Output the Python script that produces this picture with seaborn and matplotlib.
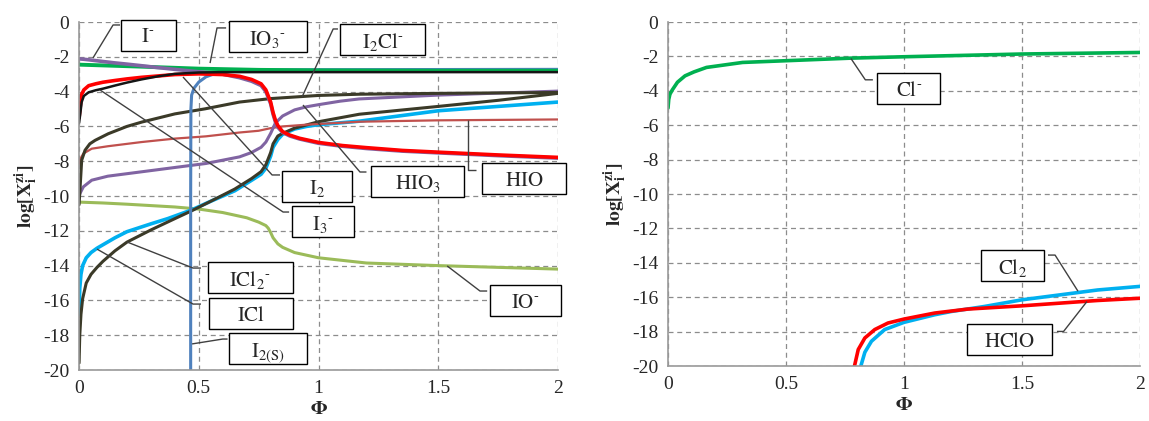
import numpy as np
import pandas as pd
import seaborn as sns
import matplotlib.pyplot as plt
from matplotlib.patches import Rectangle

# ---- left panel: iodine species, log[X] vs Phi ----
phi_Im = [0, 0.004, 0.011, 0.02, 0.04, 0.07, 0.1, 0.15, 0.2, 0.26, 0.33, 0.4, 0.5, 0.6, 0.67, 0.72,
          0.76, 0.78, 0.8, 0.81, 0.82, 0.83, 0.85, 0.88, 0.92, 1.0, 1.1, 1.2, 1.35, 1.5, 1.75, 2.0]
log_Im = [-2.12, -2.12, -2.13, -2.14, -2.17, -2.22, -2.27, -2.35, -2.42, -2.51, -2.62, -2.72, -2.86, -3.0,
          -3.2, -3.4, -3.65, -4.0, -4.7, -5.3, -5.75, -6.05, -6.35, -6.55, -6.72, -6.97, -7.14, -7.27,
          -7.42, -7.52, -7.68, -7.82]

phi_I2 = phi_Im
log_I2 = [-5.5, -5.0, -4.15, -3.9, -3.66, -3.55, -3.46, -3.36, -3.27, -3.18, -3.1, -3.02, -2.98, -3.02,
          -3.12, -3.3, -3.55, -3.9, -4.6, -5.2, -5.65, -5.95, -6.3, -6.5, -6.68, -6.92, -7.1, -7.22,
          -7.38, -7.48, -7.64, -7.78]

phi_I3m = [0, 0.004, 0.011, 0.02, 0.04, 0.07, 0.1, 0.15, 0.2, 0.26, 0.33, 0.4, 0.5, 0.6, 1.0, 1.5, 2.0]
log_I3m = [-5.8, -5.4, -4.6, -4.25, -4.04, -3.92, -3.83, -3.65, -3.48, -3.3, -3.12, -2.98, -2.9, -2.88,
           -2.88, -2.88, -2.88]

phi_IO3m = [0, 0.25, 0.5, 0.75, 1.0, 1.5, 2.0]
log_IO3m = [-2.45, -2.56, -2.68, -2.75, -2.78, -2.8, -2.8]

phi_I2s = [0.466, 0.466, 0.467, 0.47, 0.48, 0.5, 0.53, 0.56, 0.6, 0.65, 0.8, 1.0, 1.5, 2.0]
log_I2s = [-20, -10, -5.0, -4.2, -3.8, -3.45, -3.15, -3.0, -2.85, -2.78, -2.75, -2.74, -2.73, -2.72]

phi_HIO = [0, 0.004, 0.018, 0.053, 0.12, 0.26, 0.4, 0.53, 0.67, 0.75, 0.8, 0.85, 0.95, 1.17, 1.5, 2.0]
log_HIO = [-8.15, -7.9, -7.56, -7.28, -7.14, -6.9, -6.7, -6.57, -6.35, -6.25, -6.1, -6.0, -5.9, -5.73,
           -5.65, -5.6]

phi_HIO3 = [0, 0.004, 0.018, 0.053, 0.12, 0.26, 0.4, 0.53, 0.67, 0.72, 0.76, 0.78, 0.8, 0.82, 0.85,
            0.9, 0.95, 1.0, 1.09, 1.17, 1.5, 2.0]
log_HIO3 = [-10.0, -9.85, -9.47, -9.09, -8.86, -8.61, -8.36, -8.13, -7.75, -7.5, -7.2, -6.9, -6.4, -5.8,
            -5.4, -5.05, -4.87, -4.75, -4.55, -4.42, -4.2, -3.97]

phi_I2Clm = [0, 0.004, 0.011, 0.025, 0.045, 0.067, 0.122, 0.2, 0.262, 0.4, 0.526, 0.67, 0.8, 1.0, 1.17,
             1.5, 2.0]
log_I2Clm = [-10.5, -9.6, -7.94, -7.37, -7.0, -6.8, -6.42, -6.0, -5.75, -5.28, -4.99, -4.6, -4.4, -4.22,
             -4.15, -4.1, -4.05]

phi_ICl2m = [0, 0.003, 0.008, 0.015, 0.03, 0.05, 0.075, 0.1, 0.15, 0.2, 0.3, 0.4, 0.47, 0.55, 0.65, 0.72,
             0.76, 0.78, 0.8, 0.81, 0.83, 0.85, 0.9, 1.0, 1.17, 1.5, 1.75, 2.0]
log_ICl2m = [-19.6, -18.0, -16.8, -15.9, -15.0, -14.5, -14.1, -13.75, -13.15, -12.65, -11.95, -11.3, -10.85,
             -10.3, -9.6, -9.0, -8.6, -8.2, -7.5, -7.0, -6.55, -6.4, -6.1, -5.73, -5.3, -4.85, -4.5, -4.1]

phi_ICl = [0, 0.003, 0.008, 0.015, 0.03, 0.05, 0.075, 0.1, 0.15, 0.2, 0.3, 0.37, 0.47, 0.55, 0.65, 0.72,
           0.76, 0.78, 0.8, 0.81, 0.83, 0.85, 0.9, 0.95, 1.0, 1.17, 1.5, 2.0]
log_ICl = [-16.8, -15.3, -14.5, -14.0, -13.55, -13.25, -13.0, -12.8, -12.4, -12.05, -11.6, -11.3, -10.8,
           -10.3, -9.7, -9.1, -8.75, -8.4, -7.7, -7.2, -6.75, -6.45, -6.15, -6.0, -5.9, -5.7, -5.1, -4.6]

phi_IOm = [0, 0.1, 0.2, 0.3, 0.4, 0.5, 0.6, 0.7, 0.75, 0.78, 0.79, 0.8, 0.81, 0.83, 0.85, 0.9, 1.0, 1.2,
           1.5, 1.75, 2.0]
log_IOm = [-10.35, -10.4, -10.47, -10.55, -10.63, -10.75, -10.95, -11.25, -11.5, -11.7, -11.85, -12.1,
           -12.4, -12.75, -12.95, -13.25, -13.55, -13.85, -14.0, -14.1, -14.2]

# ---- right panel: chlorine species ----
phi_Clm = [0, 0.003, 0.008, 0.018, 0.04, 0.072, 0.11, 0.163, 0.316, 0.5, 0.775, 1.0, 1.5, 2.0]
log_Clm = [-5.0, -4.5, -4.2, -3.95, -3.5, -3.13, -2.9, -2.64, -2.35, -2.25, -2.1, -2.02, -1.86, -1.77]

phi_Cl2 = [0.817, 0.834, 0.862, 0.918, 1.0, 1.13, 1.2, 1.34, 1.5, 1.82, 2.0]
log_Cl2 = [-20, -19.2, -18.56, -17.88, -17.46, -17.02, -16.83, -16.54, -16.15, -15.58, -15.37]

phi_HClO = [0.79, 0.806, 0.834, 0.876, 0.932, 1.0, 1.13, 1.27, 1.5, 1.82, 2.0]
log_HClO = [-20, -19.04, -18.37, -17.88, -17.5, -17.27, -16.92, -16.69, -16.5, -16.19, -16.06]

sns.set_theme(style='white')
plt.rcParams['font.family'] = ['Liberation Serif', 'DejaVu Serif']
plt.rcParams['mathtext.fontset'] = 'stix'
plt.rcParams['axes.unicode_minus'] = False

fig = plt.figure(figsize=(11.49, 4.21), dpi=100)
ax1 = fig.add_axes([0.0688, 0.1211, 0.4169, 0.8266])
ax2 = fig.add_axes([0.5814, 0.1306, 0.4108, 0.8171])


def draw(ax, x, y, color, lw):
    sns.lineplot(x=x, y=y, ax=ax, color=color, linewidth=lw, estimator=None, sort=False)


def label(ax, text, cx, cy, wpx, leader):
    pos = ax.get_position()
    ax_w = pos.width * fig.get_figwidth() * fig.dpi
    ax_h = pos.height * fig.get_figheight() * fig.dpi
    x0, x1 = ax.get_xlim()
    y0, y1 = ax.get_ylim()
    w = wpx * (x1 - x0) / ax_w
    h = 31 * (y1 - y0) / ax_h
    ax.add_patch(Rectangle((cx - w / 2, cy - h / 2), w, h, facecolor='white', edgecolor='black',
                           lw=1, zorder=5, clip_on=False))
    ax.text(cx, cy, text, ha='center', va='center_baseline', fontsize=15, zorder=6)
    lx, ly = zip(*leader)
    ax.plot(lx, ly, color='#404040', lw=1, zorder=4, solid_capstyle='butt')


for ax in (ax1, ax2):
    ax.set_xlim(0, 2)
    ax.set_ylim(-20, 0)
    ax.set_xticks([0, 0.5, 1, 1.5, 2])
    ax.set_xticklabels(['0', '0.5', '1', '1.5', '2'])
    ax.set_yticks(range(-20, 1, 2))
    ax.grid(True, color='#8c8c8c', linestyle=(0, (4, 3)), linewidth=0.9)
    ax.set_axisbelow(True)
    for s in ('top', 'right'):
        ax.spines[s].set_visible(False)
    for s in ('left', 'bottom'):
        ax.spines[s].set_color('#999999')
        ax.spines[s].set_linewidth(1.2)
    ax.tick_params(length=0, labelsize=14, pad=7)
    ax.set_xlabel(r'$\mathbf{\Phi}$', fontsize=14, labelpad=3)
    ax.set_ylabel(r'$\mathbf{log[X_i^{zi}]}$', fontsize=14, labelpad=2)

# left panel curves
draw(ax1, phi_IOm, log_IOm, '#9bbb59', 2.2)
draw(ax1, phi_ICl, log_ICl, '#00b0f0', 2.6)
draw(ax1, phi_ICl2m, log_ICl2m, '#3b3a28', 2.2)
draw(ax1, phi_HIO, log_HIO, '#c0504d', 1.6)
draw(ax1, phi_HIO3, log_HIO3, '#8064a2', 2.2)
draw(ax1, phi_I2Clm, log_I2Clm, '#3b3a28', 2.2)
draw(ax1, phi_I2s, log_I2s, '#4f81bd', 2.2)
draw(ax1, phi_IO3m, log_IO3m, '#00b050', 2.8)
draw(ax1, phi_Im, log_Im, '#8064a2', 2.6)
draw(ax1, phi_I2, log_I2, '#ff0000', 2.6)
draw(ax1, phi_I3m, log_I3m, '#151515', 1.8)

# right panel curves
draw(ax2, phi_Clm, log_Clm, '#00b050', 2.6)
draw(ax2, phi_Cl2, log_Cl2, '#00b0f0', 2.6)
draw(ax2, phi_HClO, log_HClO, '#ff0000', 2.6)

# boxed labels with leader lines
m = r'^{\text{-}}'
label(ax1, r'$\mathrm{I}' + m + '$', 0.288, -0.75, 55, [(0.058, -2.07), (0.142, -0.17), (0.171, -0.17)])
label(ax1, r'$\mathrm{IO_3}' + m + '$', 0.789, -0.86, 78, [(0.547, -2.36), (0.576, -0.34), (0.614, -0.34)])
label(ax1, r'$\mathrm{I_2Cl}' + m + '$', 1.269, -1.03, 85, [(0.931, -4.31), (1.061, -0.40), (1.081, -0.40)])
label(ax1, r'$\mathrm{I_2}$', 0.994, -9.43, 70, [(0.434, -3.16), (0.806, -8.79), (0.839, -8.79)])
label(ax1, r'$\mathrm{I_3}' + m + '$', 1.019, -11.49, 62, [(0.088, -3.91), (0.852, -10.92), (0.877, -10.92)])
label(ax1, r'$\mathrm{HIO_3}$', 1.415, -9.14, 93, [(0.935, -4.77), (1.173, -8.62), (1.2, -8.62)])
label(ax1, r'$\mathrm{HIO}$', 1.858, -9.02, 84, [(1.624, -5.62), (1.624, -8.51), (1.658, -8.51)])
label(ax1, r'$\mathrm{IO}' + m + '$', 1.862, -16.03, 71, [(1.537, -14.02), (1.674, -15.46), (1.704, -15.46)])
label(ax1, r'$\mathrm{ICl_2}' + m + '$', 0.714, -14.71, 85, [(0.2, -12.64), (0.476, -14.14), (0.509, -14.14)])
label(ax1, r'$\mathrm{ICl}$', 0.718, -16.78, 84, [(0.075, -13.05), (0.476, -16.21), (0.509, -16.21)])
label(ax1, r'$\mathrm{I_{2(S)}}$', 0.789, -18.79, 78, [(0.472, -18.5), (0.6, -18.22), (0.62, -18.22)])

label(ax2, r'$\mathrm{Cl}' + m + '$', 1.02, -3.87, 63, [(0.775, -2.12), (0.836, -3.36), (0.868, -3.36)])
label(ax2, r'$\mathrm{Cl_2}$', 1.46, -14.15, 63, [(1.737, -15.65), (1.64, -13.55), (1.61, -13.55)])
label(ax2, r'$\mathrm{HClO}$', 1.447, -18.46, 85, [(1.775, -16.25), (1.676, -17.99), (1.648, -17.99)])

plt.savefig('out.png', dpi=100)
